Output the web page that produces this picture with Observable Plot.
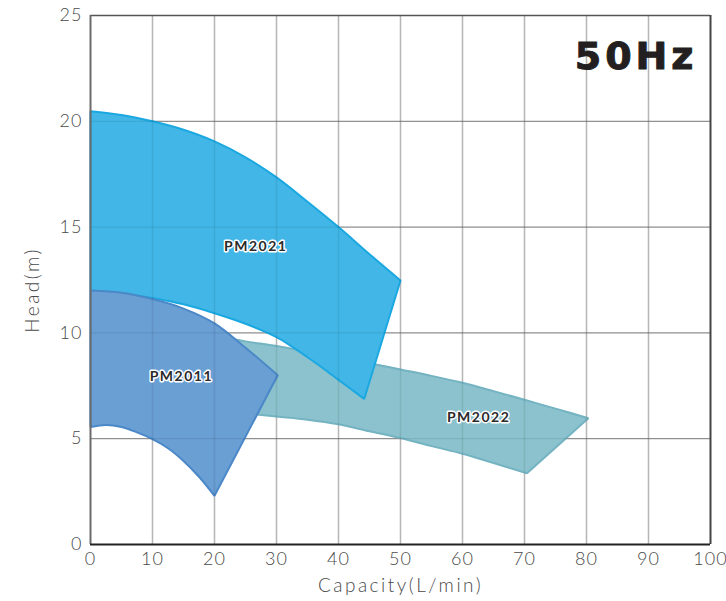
<!DOCTYPE html>
<html><head><meta charset="utf-8">
<script src="https://cdn.jsdelivr.net/npm/d3@7"></script>
<script src="https://cdn.jsdelivr.net/npm/@observablehq/plot@0.6"></script>
<style>body{margin:0;background:#fff} #chart svg{display:block}</style>
</head><body><div id="chart"></div>
<script>
// Capacity (L/min) and head (m).
// Upper curve left->right, then lower curve right->left.
const pm2021TopX = [0, 5, 10, 15, 20, 25, 30, 35, 40, 45, 50];
const pm2021TopY = [20.48, 20.3, 20.0, 19.6, 19.05, 18.3, 17.35, 16.2, 15.0, 13.72, 12.48];
const pm2021LowX = [44.15, 42, 40, 37.5, 35, 32.5, 30, 25, 20, 15, 10, 5, 0];
const pm2021LowY = [6.88, 7.35, 7.78, 8.33, 8.85, 9.35, 9.8, 10.43, 10.93, 11.35, 11.65, 11.88, 12.0];

const pm2011TopX = [0, 5, 10, 15, 20, 25, 30.2];
const pm2011TopY = [12.0, 11.9, 11.6, 11.15, 10.45, 9.3, 8.0];
const pm2011LowX = [20, 17.5, 15, 12.5, 10, 7.5, 5, 2.5, 0];
const pm2011LowY = [2.3, 3.2, 3.95, 4.55, 4.98, 5.3, 5.55, 5.65, 5.55];

const pm2022TopX = [20, 25, 30, 35, 40, 45, 50, 55, 60, 65, 70, 75, 80.3];
const pm2022TopY = [9.85, 9.6, 9.38, 9.12, 8.85, 8.57, 8.27, 7.97, 7.64, 7.25, 6.84, 6.42, 5.97];
const pm2022LowX = [70.4, 65, 60, 55, 50, 45, 40, 35, 30, 25, 20];
const pm2022LowY = [3.37, 3.85, 4.29, 4.65, 5.03, 5.35, 5.68, 5.9, 6.05, 6.2, 6.35];

const modelNames = ["PM2021", "PM2011", "PM2022"];
const modelLabelX = [26.65, 14.65, 62.6];
const modelLabelY = [14.1, 7.96, 5.99];

const xTicks = [0, 10, 20, 30, 40, 50, 60, 70, 80, 90, 100];
const yTicks = [0, 5, 10, 15, 20, 25];
const xTitle = "Capacity(L/min)";
const yTitle = "Head(m)";
const freqTitle = "50Hz";

function outline(tx, ty, lx, ly) {
  const pts = tx.map((x, i) => ({x, y: ty[i]})).concat(lx.map((x, i) => ({x, y: ly[i]})));
  pts.push({...pts[0]});
  return pts;
}
// smooth curve pieces, straight joins at the corners of each envelope
function envelopeCurve(nTop, nLow) {
  const breaks = [nTop - 1, nTop, nTop + nLow - 1];
  return function(context) {
    let pts = [];
    return {
      areaStart() {}, areaEnd() {},
      lineStart() { pts = []; },
      point(x, y) { pts.push([+x, +y]); },
      lineEnd() {
        let started = false;
        const proxy = {
          moveTo(x, y) { if (started) context.lineTo(x, y); else { context.moveTo(x, y); started = true; } },
          lineTo(x, y) { context.lineTo(x, y); },
          bezierCurveTo(a, b, c, d, e, f) { context.bezierCurveTo(a, b, c, d, e, f); },
          closePath() {}
        };
        const idx = [0, ...breaks, pts.length - 1];
        for (let k = 0; k < idx.length - 1; k++) {
          const c = d3.curveCatmullRom.alpha(0.5)(proxy);
          c.lineStart();
          for (let i = idx[k]; i <= idx[k + 1]; i++) c.point(pts[i][0], pts[i][1]);
          c.lineEnd();
        }
        context.closePath();
      }
    };
  };
}
const labels = modelNames.map((name, i) => ({name, x: modelLabelX[i], y: modelLabelY[i]}));
const innerX = xTicks.filter(v => v > 0 && v < 100);
const innerY = yTicks.filter(v => v > 0 && v < 25);

const chart = Plot.plot({
  width: 726,
  height: 601,
  marginLeft: 90,
  marginRight: 16,
  marginTop: 15,
  marginBottom: 57,
  style: {fontFamily: "Lato", fontSize: "18px", fontWeight: 300, color: "#4a4a4a", background: "white"},
  x: {domain: [0, 100], ticks: xTicks, tickSize: 0, tickPadding: 8, label: null},
  y: {domain: [0, 25], ticks: yTicks, tickSize: 0, tickPadding: 8, label: null},
  marks: [
    Plot.ruleX(innerX, {stroke: "#c6c6c6", strokeWidth: 1.5}),
    Plot.ruleY(innerY, {stroke: "#868686", strokeWidth: 1}),
    Plot.line(outline(pm2022TopX, pm2022TopY, pm2022LowX, pm2022LowY), {x: "x", y: "y", curve: envelopeCurve(pm2022TopX.length, pm2022LowX.length), fill: "#8bc2cd", stroke: "#74b3c2", strokeWidth: 2, strokeLinejoin: "miter"}),
    Plot.line(outline(pm2021TopX, pm2021TopY, pm2021LowX, pm2021LowY), {x: "x", y: "y", curve: envelopeCurve(pm2021TopX.length, pm2021LowX.length), fill: "#42b7e7", stroke: "#1ba8e1", strokeWidth: 2, strokeLinejoin: "miter"}),
    Plot.line(outline(pm2011TopX, pm2011TopY, pm2011LowX, pm2011LowY), {x: "x", y: "y", curve: envelopeCurve(pm2011TopX.length, pm2011LowX.length), fill: "#6a9fd4", stroke: "#4b88c8", strokeWidth: 2, strokeLinejoin: "miter"}),
    Plot.ruleX(innerX, {stroke: "#000", strokeOpacity: 0.08, strokeWidth: 1.5}),
    Plot.ruleY(innerY, {stroke: "#000", strokeOpacity: 0.1, strokeWidth: 1}),
    Plot.ruleY([25], {stroke: "#555", strokeWidth: 1.5}),
    Plot.ruleX([0], {stroke: "#6b6b6b", strokeWidth: 2}),
    Plot.ruleX([100], {stroke: "#444", strokeWidth: 2}),
    Plot.ruleY([0], {stroke: "#222", strokeWidth: 2}),
    Plot.text(labels, {x: "x", y: "y", text: "name", fill: "#2b2b2b", stroke: "white", strokeWidth: 3, paintOrder: "stroke", fontWeight: "bold", fontSize: 14, fontFamily: "Lato"}),
    Plot.text([freqTitle], {frameAnchor: "top-right", textAnchor: "end", text: d => d, dx: -13, dy: 27, fill: "#231f20", stroke: "#231f20", strokeWidth: 1, fontFamily: "DejaVu Sans", fontWeight: "bold", fontSize: 38, lineAnchor: "top"}),
    Plot.text([xTitle], {frameAnchor: "bottom", textAnchor: "middle", text: d => d, dy: 34, lineAnchor: "top", fill: "#4a4a4a", fontSize: 19}),
    Plot.text([yTitle], {frameAnchor: "left", textAnchor: "middle", lineAnchor: "middle", text: d => d, rotate: -90, dx: -58, dy: 10, fill: "#4a4a4a", fontSize: 19})
  ]
});
document.getElementById("chart").appendChild(chart);

// letter spacing for text
d3.select(chart).selectAll("text").each(function() {
  const t = this.textContent;
  if (t === freqTitle) this.setAttribute("letter-spacing", "4");
  else if (modelNames.includes(t)) this.setAttribute("letter-spacing", "1.5");
  else if (t === xTitle || t === yTitle) this.setAttribute("letter-spacing", "2.5");
  else this.setAttribute("letter-spacing", "1");
});
</script>
</body></html>
